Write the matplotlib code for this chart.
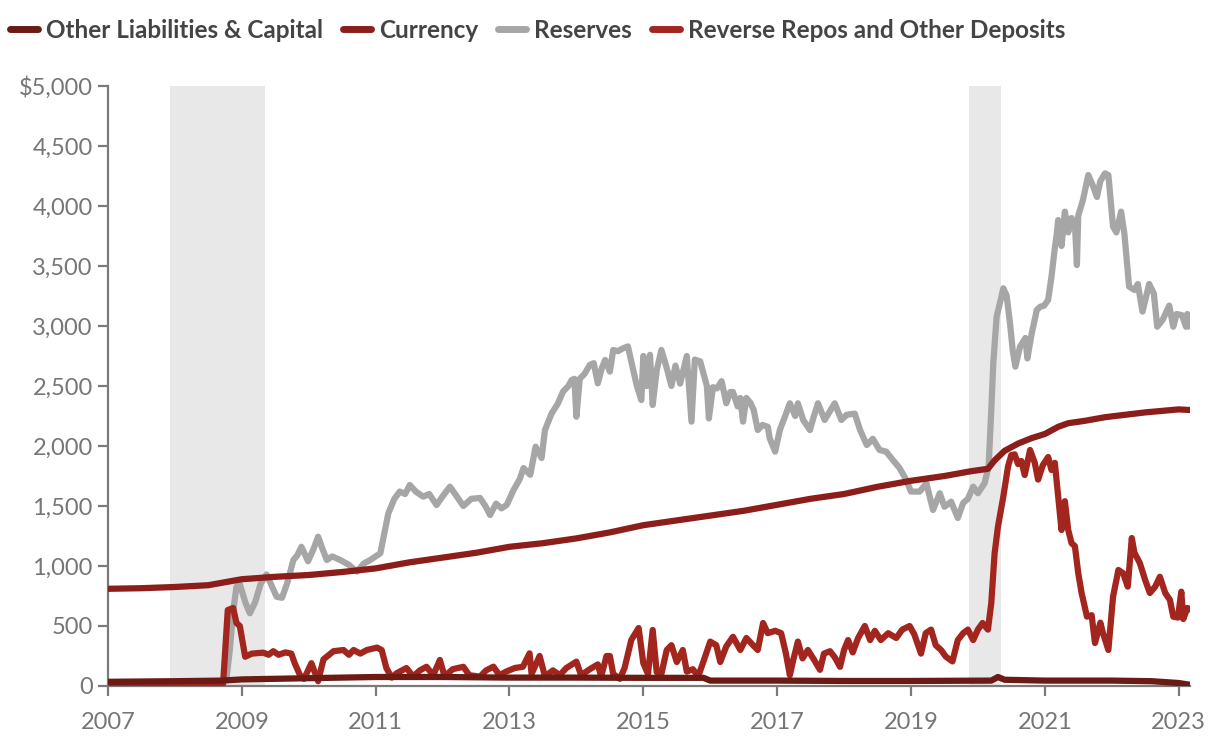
import matplotlib
matplotlib.use("Agg")
import matplotlib.pyplot as plt
import matplotlib.ticker as ticker

plt.rcParams["font.family"] = ["Lato", "DejaVu Sans"]

# Decimal years and $ billions
currency_t = [2007.0, 2007.5, 2008.0, 2008.5, 2008.8, 2009.0, 2009.5, 2010.0, 2010.5, 2011.0,
              2011.5, 2012.0, 2012.5, 2013.0, 2013.5, 2014.0, 2014.5, 2015.0, 2015.5, 2016.0,
              2016.5, 2017.0, 2017.5, 2018.0, 2018.5, 2019.0, 2019.5, 2019.9, 2020.15, 2020.25,
              2020.4, 2020.6, 2020.8, 2021.0, 2021.2, 2021.35, 2021.6, 2021.9, 2022.2, 2022.5,
              2022.8, 2023.0, 2023.17]
currency_v = [810, 815, 825, 840, 870, 890, 910, 925, 950, 980,
              1030, 1070, 1110, 1160, 1190, 1230, 1280, 1340, 1380, 1420,
              1460, 1510, 1560, 1600, 1660, 1710, 1750, 1790, 1810, 1880,
              1960, 2020, 2065, 2100, 2160, 2190, 2210, 2240, 2260, 2280,
              2295, 2305, 2300]

other_t = [2007.0, 2008.0, 2008.7, 2009.0, 2010.0, 2011.0, 2012.0, 2013.0, 2014.0, 2015.0,
           2015.9, 2016.0, 2017.0, 2018.0, 2019.0, 2020.2, 2020.3, 2020.4, 2021.0, 2022.0,
           2022.6, 2023.0, 2023.17]
other_v = [35, 40, 45, 55, 65, 75, 75, 70, 70, 68,
           68, 45, 45, 42, 42, 45, 75, 52, 45, 45,
           40, 25, 10]

reserves_t = [2007.0, 2007.5, 2008.0, 2008.5, 2008.72, 2008.77, 2008.82, 2008.87, 2008.92, 2008.97,
              2009.05, 2009.12, 2009.2, 2009.28, 2009.37, 2009.45, 2009.52, 2009.6, 2009.68, 2009.77,
              2009.83, 2009.89, 2009.99, 2010.07, 2010.14, 2010.2, 2010.27, 2010.35, 2010.47, 2010.6,
              2010.72, 2010.82, 2010.92, 2011.07, 2011.19, 2011.28, 2011.36, 2011.44, 2011.51, 2011.6,
              2011.71, 2011.8, 2011.91, 2012.0, 2012.11, 2012.2, 2012.31, 2012.43, 2012.56, 2012.64,
              2012.71, 2012.8, 2012.88, 2012.96, 2013.06, 2013.15, 2013.21, 2013.31, 2013.39, 2013.48,
              2013.53, 2013.63, 2013.72, 2013.8, 2013.88, 2013.93, 2013.97, 2014.0, 2014.05, 2014.12,
              2014.2, 2014.26, 2014.32, 2014.38, 2014.43, 2014.5, 2014.55, 2014.62, 2014.7, 2014.77,
              2014.85, 2014.9, 2014.97, 2015.0, 2015.05, 2015.1, 2015.14, 2015.2, 2015.27, 2015.35,
              2015.42, 2015.48, 2015.55, 2015.65, 2015.72, 2015.77, 2015.85, 2015.95, 2015.98, 2016.04,
              2016.1, 2016.17, 2016.24, 2016.3, 2016.34, 2016.41, 2016.45, 2016.49, 2016.54, 2016.6,
              2016.65, 2016.71, 2016.78, 2016.86, 2016.89, 2016.97, 2017.04, 2017.12, 2017.19, 2017.27,
              2017.31, 2017.39, 2017.49, 2017.55, 2017.61, 2017.71, 2017.8, 2017.86, 2017.96, 2018.04,
              2018.16, 2018.24, 2018.34, 2018.43, 2018.53, 2018.63, 2018.73, 2018.83, 2018.93, 2019.0,
              2019.13, 2019.23, 2019.33, 2019.43, 2019.5, 2019.6, 2019.7, 2019.78, 2019.85, 2019.93,
              2020.0, 2020.1, 2020.16, 2020.2, 2020.23, 2020.28, 2020.33, 2020.38, 2020.43, 2020.48,
              2020.52, 2020.56, 2020.63, 2020.71, 2020.74, 2020.8, 2020.88, 2020.93, 2020.99, 2021.05,
              2021.1, 2021.15, 2021.18, 2021.2, 2021.25, 2021.3, 2021.35, 2021.4, 2021.45, 2021.48,
              2021.5, 2021.57, 2021.65, 2021.72, 2021.78, 2021.83, 2021.9, 2021.95, 2022.02, 2022.07,
              2022.14, 2022.19, 2022.26, 2022.34, 2022.39, 2022.46, 2022.56, 2022.63, 2022.68, 2022.76,
              2022.86, 2022.92, 2022.97, 2023.05, 2023.11, 2023.13, 2023.17]
reserves_v = [15, 15, 20, 15, 30, 60, 300, 620, 828, 850,
              700, 606, 700, 850, 930, 830, 744, 735, 860, 1050,
              1090, 1160, 1040, 1140, 1244, 1150, 1050, 1080, 1050, 1010,
              953, 1020, 1050, 1106, 1440, 1560, 1620, 1600, 1675, 1620,
              1578, 1600, 1508, 1580, 1661, 1590, 1500, 1560, 1567, 1500,
              1425, 1520, 1480, 1510, 1633, 1720, 1816, 1760, 1994, 1900,
              2133, 2272, 2350, 2453, 2500, 2550, 2560, 2244, 2560, 2600,
              2675, 2690, 2522, 2650, 2717, 2620, 2800, 2790, 2815, 2830,
              2630, 2508, 2383, 2750, 2500, 2760, 2342, 2630, 2800, 2650,
              2500, 2670, 2520, 2750, 2203, 2720, 2705, 2500, 2230, 2490,
              2480, 2540, 2356, 2450, 2450, 2330, 2400, 2203, 2400, 2360,
              2300, 2133, 2175, 2160, 2063, 1953, 2133, 2250, 2356, 2250,
              2356, 2217, 2133, 2250, 2356, 2217, 2300, 2356, 2217, 2260,
              2270, 2133, 2008, 2060, 1967, 1953, 1883, 1816, 1717, 1620,
              1620, 1690, 1467, 1606, 1494, 1536, 1400, 1525, 1560, 1661,
              1606, 1690, 1828, 2300, 2690, 3078, 3192, 3314, 3253, 3022,
              2800, 2661, 2828, 2900, 2730, 2925, 3133, 3160, 3170, 3217,
              3411, 3650, 3775, 3883, 3667, 3953, 3780, 3900, 3850, 3508,
              3920, 4050, 4258, 4167, 4075, 4208, 4272, 4258, 3828, 3780,
              3953, 3767, 3328, 3300, 3350, 3120, 3350, 3270, 2994, 3050,
              3170, 2994, 3100, 3090, 2994, 3100, 3000]

rrp_t = [2007.0, 2008.0, 2008.7, 2008.72, 2008.79, 2008.87, 2008.92, 2008.97, 2009.05, 2009.15,
         2009.32, 2009.4, 2009.47, 2009.55, 2009.65, 2009.74, 2009.79, 2009.87, 2009.93, 2010.04,
         2010.14, 2010.22, 2010.37, 2010.52, 2010.6, 2010.67, 2010.77, 2010.87, 2011.02, 2011.09,
         2011.16, 2011.24, 2011.31, 2011.46, 2011.56, 2011.66, 2011.76, 2011.86, 2011.96, 2012.03,
         2012.15, 2012.31, 2012.4, 2012.56, 2012.65, 2012.76, 2012.85, 2012.95, 2013.08, 2013.2,
         2013.3, 2013.33, 2013.45, 2013.53, 2013.65, 2013.75, 2013.85, 2014.0, 2014.07, 2014.2,
         2014.32, 2014.37, 2014.45, 2014.5, 2014.55, 2014.65, 2014.72, 2014.82, 2014.93, 2015.0,
         2015.07, 2015.14, 2015.2, 2015.27, 2015.35, 2015.42, 2015.5, 2015.59, 2015.65, 2015.74,
         2015.82, 2015.89, 2016.0, 2016.09, 2016.15, 2016.24, 2016.34, 2016.45, 2016.54, 2016.64,
         2016.71, 2016.79, 2016.86, 2016.97, 2017.06, 2017.13, 2017.19, 2017.24, 2017.31, 2017.38,
         2017.46, 2017.55, 2017.64, 2017.7, 2017.79, 2017.86, 2017.94, 2018.0, 2018.06, 2018.13,
         2018.21, 2018.31, 2018.39, 2018.46, 2018.55, 2018.66, 2018.78, 2018.87, 2018.98, 2019.05,
         2019.15, 2019.22, 2019.3, 2019.37, 2019.45, 2019.52, 2019.62, 2019.7, 2019.78, 2019.85,
         2019.93, 2020.0, 2020.07, 2020.15, 2020.2, 2020.25, 2020.3, 2020.38, 2020.45, 2020.5,
         2020.55, 2020.6, 2020.65, 2020.7, 2020.78, 2020.85, 2020.9, 2020.97, 2021.05, 2021.1,
         2021.15, 2021.2, 2021.25, 2021.3, 2021.35, 2021.4, 2021.45, 2021.5, 2021.55, 2021.63,
         2021.7, 2021.75, 2021.83, 2021.87, 2021.95, 2022.02, 2022.1, 2022.17, 2022.24, 2022.3,
         2022.34, 2022.42, 2022.5, 2022.57, 2022.65, 2022.72, 2022.8, 2022.87, 2022.92, 2022.99,
         2023.04, 2023.07, 2023.13, 2023.17]
rrp_v = [5, 5, 5, 20, 633, 650, 525, 500, 244, 270,
         278, 260, 290, 260, 280, 270, 190, 90, 60, 190,
         40, 222, 290, 300, 260, 300, 270, 300, 320, 300,
         150, 70, 105, 150, 80, 130, 160, 90, 217, 80,
         140, 160, 90, 78, 130, 161, 90, 120, 150, 160,
         272, 100, 250, 80, 130, 90, 150, 203, 90, 140,
         180, 80, 250, 250, 100, 60, 150, 383, 483, 190,
         100, 467, 115, 100, 300, 340, 200, 300, 120, 140,
         80, 190, 370, 340, 200, 330, 410, 300, 400, 340,
         300, 525, 440, 460, 440, 273, 90, 215, 370, 230,
         300, 220, 135, 270, 290, 240, 160, 300, 383, 280,
         400, 500, 383, 460, 383, 440, 400, 470, 500, 430,
         270, 440, 470, 340, 300, 245, 205, 383, 440, 470,
         383, 470, 525, 470, 690, 1106, 1328, 1578, 1828, 1925,
         1930, 1850, 1875, 1758, 1967, 1860, 1720, 1840, 1908, 1800,
         1860, 1578, 1300, 1540, 1300, 1190, 1165, 940, 775, 578,
         590, 358, 528, 440, 300, 744, 967, 940, 828, 1233,
         1110, 1025, 883, 775, 828, 910, 775, 717, 578, 570,
         786, 558, 650, 640]

# Recessions (decimal years)
recessions = [(2007.93, 2009.35), (2019.87, 2020.34)]

COLORS = {
    "other": "#6B1A14",
    "currency": "#8B1E1A",
    "reserves": "#A6A6A6",
    "rrp": "#A3261E",
}
AXIS_GRAY = "#7A7A7A"
TEXT_GRAY = "#767676"

fig = plt.figure(figsize=(12.2, 7.48), dpi=100)
ax = fig.add_axes([108 / 1220, 62 / 748, 1082 / 1220, 600 / 748])

for start, end in recessions:
    ax.axvspan(start, end, ymin=0, ymax=1, color="#E8E8E8", lw=0, zorder=0)

lw = 4.5
ax.plot(reserves_t, reserves_v, color=COLORS["reserves"], lw=lw, zorder=2,
        solid_joinstyle="round", label="Reserves")
ax.plot(rrp_t, rrp_v, color=COLORS["rrp"], lw=lw, zorder=3,
        solid_joinstyle="round", label="Reverse Repos and Other Deposits")
ax.plot(currency_t, currency_v, color=COLORS["currency"], lw=lw, zorder=4,
        solid_joinstyle="round", label="Currency")
ax.plot(other_t, other_v, color=COLORS["other"], lw=lw, zorder=5,
        solid_joinstyle="round", label="Other Liabilities & Capital")

ax.set_xlim(2007, 2023.17)
ax.set_ylim(0, 5000)
ax.set_xticks(range(2007, 2024, 2))
ax.set_yticks(range(0, 5001, 500))
ax.yaxis.set_major_formatter(ticker.FuncFormatter(
    lambda v, _: f"${v:,.0f}" if v == 5000 else f"{v:,.0f}"))

for side in ("top", "right"):
    ax.spines[side].set_visible(False)
for side in ("left", "bottom"):
    ax.spines[side].set_color(AXIS_GRAY)
    ax.spines[side].set_linewidth(1.6)
ax.tick_params(axis="both", colors=AXIS_GRAY, labelcolor=TEXT_GRAY,
               labelsize=17, length=7, width=1.6, direction="out")
ax.tick_params(axis="x", pad=12)
ax.tick_params(axis="y", pad=4)

handles, labels = ax.get_legend_handles_labels()
order = ["Other Liabilities & Capital", "Currency", "Reserves",
         "Reverse Repos and Other Deposits"]
hmap = dict(zip(labels, handles))
leg = fig.legend([hmap[k] for k in order], order, loc="center left",
                 bbox_to_anchor=(10 / 1220, 1 - 30 / 748), ncol=4, frameon=False,
                 handlelength=1.15, handletextpad=0.33, columnspacing=0.82,
                 prop={"size": 17.5, "weight": "bold"}, borderpad=0,
                 borderaxespad=0)
for txt in leg.get_texts():
    txt.set_color("#444444")
for line in leg.get_lines():
    line.set_linewidth(5)
    line.set_solid_capstyle("round")

fig.savefig("out.png", dpi=100)
